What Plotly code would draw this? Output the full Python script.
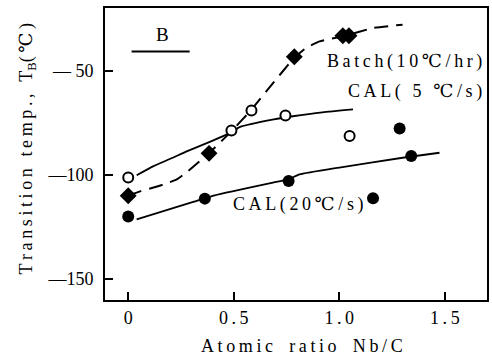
import plotly.graph_objects as go

# ---------------- data ----------------
batch_x = [0.0, 0.383, 0.787, 1.017, 1.046]
batch_y = [-110.0, -89.7, -43.4, -33.3, -33.3]
batch_curve_x = [0.0, 0.06, 0.12, 0.17, 0.23, 0.28, 0.383, 0.49, 0.584, 0.655,
                 0.787, 0.844, 0.907, 1.03, 1.16, 1.30]
batch_curve_y = [-110.0, -107.8, -106.1, -104.5, -102.2, -98.5, -89.5, -79.0, -68.7, -59.9,
                 -43.9, -39.1, -36.0, -33.3, -29.6, -28.0]

cal5_x = [0.0, 0.489, 0.584, 0.745, 1.049]
cal5_y = [-101.3, -78.7, -69.1, -71.5, -81.4]
cal5_curve_x = [0.04, 0.12, 0.20, 0.28, 0.395, 0.49, 0.53, 0.69, 0.78, 0.92, 1.065]
cal5_curve_y = [-100.2, -95.8, -92.3, -88.6, -83.8, -79.5, -77.0, -73.4, -71.9, -70.0, -68.6]

cal20_x = [0.0, 0.363, 0.76, 1.16, 1.286, 1.341]
cal20_y = [-120.0, -111.4, -103.0, -111.2, -77.8, -91.0]
cal20_curve_x = [0.04, 0.308, 0.41, 0.686, 0.757, 0.812, 1.0, 1.30, 1.475]
cal20_curve_y = [-121.3, -113.0, -109.8, -103.7, -102.2, -99.8, -96.5, -91.8, -89.4]

x_tickvals = [0, 0.5, 1.0, 1.5]
x_ticktext = ["0", "0.5", "1.0", "1.5"]
y_tickvals = [-50, -100, -150]
y_ticktext = ["— 50", "—100", "—150"]

label_batch = "Batch(10℃/hr)"
label_cal5 = "CAL( 5 ℃/s)"
label_cal20 = "CAL(20℃/s)"
x_title = "Atomic ratio Nb/C"
y_title_main = "Transition temp., T"
y_title_sub = "B"
y_title_end = "(℃)"
panel_label = "B"

# ---------------- style ----------------
FONT = "Liberation Serif, DejaVu Serif, serif"
FS = 18
THIN = "\u2009"


def spaced(s, wide=False):
    gap = "\u2002" if wide else " "
    return THIN.join(gap if ch == " " else ch for ch in s)


fig = go.Figure()

# curves
fig.add_trace(go.Scatter(x=batch_curve_x, y=batch_curve_y, mode="lines",
                         line=dict(color="black", width=2, dash="14px,8px",
                                   shape="spline", smoothing=0.5),
                         hoverinfo="skip", showlegend=False))
fig.add_trace(go.Scatter(x=cal5_curve_x, y=cal5_curve_y, mode="lines",
                         line=dict(color="black", width=1.8, shape="spline", smoothing=0.5),
                         hoverinfo="skip", showlegend=False))
fig.add_trace(go.Scatter(x=cal20_curve_x, y=cal20_curve_y, mode="lines",
                         line=dict(color="black", width=1.8, shape="spline", smoothing=0.5),
                         hoverinfo="skip", showlegend=False))

# markers
fig.add_trace(go.Scatter(x=batch_x, y=batch_y, mode="markers",
                         marker=dict(symbol="diamond", size=13, color="black",
                                     line=dict(width=0)),
                         showlegend=False))
fig.add_trace(go.Scatter(x=cal5_x, y=cal5_y, mode="markers",
                         marker=dict(symbol="circle", size=10, color="white",
                                     line=dict(width=2, color="black")),
                         showlegend=False))
fig.add_trace(go.Scatter(x=cal20_x, y=cal20_y, mode="markers",
                         marker=dict(symbol="circle", size=12, color="black",
                                     line=dict(width=0)),
                         showlegend=False))

# panel label and its underline
fig.add_annotation(x=0.162, y=-32.8, xref="x", yref="y", text=panel_label,
                   showarrow=False, font=dict(family=FONT, size=19, color="black"))
fig.add_shape(type="line", xref="x", yref="y", x0=0.016, x1=0.291, y0=-40.8, y1=-40.8,
              line=dict(color="black", width=2))

# series labels
for txt, x, y in [(label_batch, 0.931, -45.5), (label_cal5, 1.034, -59.9),
                  (label_cal20, 0.489, -114.1)]:
    fig.add_annotation(x=x, y=y, xref="x", yref="y", text=spaced(txt),
                       xanchor="left", yanchor="middle", showarrow=False,
                       font=dict(family=FONT, size=FS, color="black"))

# axis titles
ytitle = spaced(y_title_main) + "<sub>" + y_title_sub + "</sub>" + spaced(y_title_end)
fig.add_annotation(x=-0.203, y=0.52, xref="paper", yref="paper", text=ytitle,
                   textangle=-90, showarrow=False, xanchor="center", yanchor="middle",
                   font=dict(family=FONT, size=FS, color="black"))
fig.add_annotation(x=0.516, y=-0.158, xref="paper", yref="paper",
                   text=spaced(x_title, wide=True), showarrow=False,
                   xanchor="center", yanchor="middle",
                   font=dict(family=FONT, size=FS, color="black"))

fig.update_layout(
    width=492, height=359,
    margin=dict(l=105, r=5, t=8, b=59),
    paper_bgcolor="white", plot_bgcolor="white",
    font=dict(family=FONT, size=FS, color="black"),
    showlegend=False,
    xaxis=dict(range=[-0.11, 1.70], tickvals=x_tickvals,
               ticktext=[spaced(t) for t in x_ticktext],
               ticks="inside", ticklen=8, tickwidth=2, tickcolor="black",
               showline=True, linewidth=2, linecolor="black", mirror=True,
               showgrid=False, zeroline=False, ticklabelstandoff=0,
               automargin=False),
    yaxis=dict(range=[-160, -20], tickvals=y_tickvals, ticktext=y_ticktext,
               ticks="inside", ticklen=8, tickwidth=2, tickcolor="black",
               showline=True, linewidth=2, linecolor="black", mirror=True,
               showgrid=False, zeroline=False, ticklabelstandoff=6,
               automargin=False),
)

fig.write_html("out.html",
               config={"displayModeBar": False},
               post_script="document.body.style.margin='0';document.body.style.overflow='hidden';")
